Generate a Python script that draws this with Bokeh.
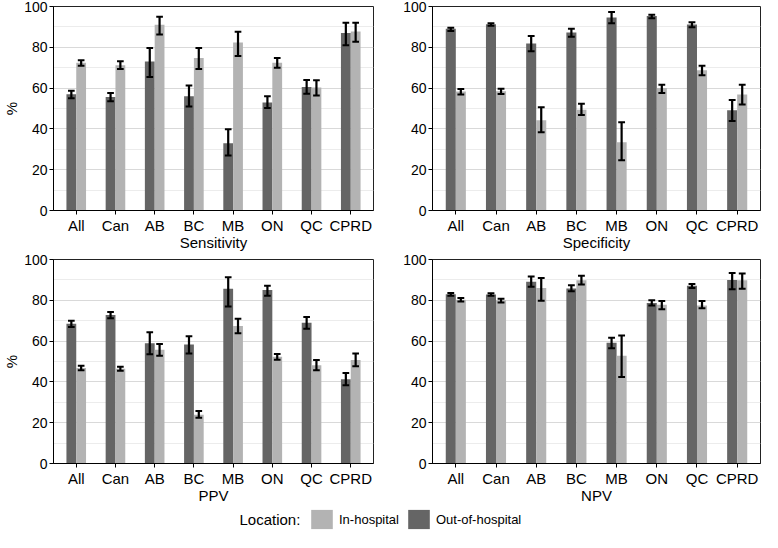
from bokeh.plotting import figure
from bokeh.models import (Range1d, FixedTicker, ColumnDataSource, Legend,
                          LegendItem, Label)
from bokeh.layouts import column, row
from bokeh.embed import file_html
from bokeh.resources import INLINE

regions = ["All", "Can", "AB", "BC", "MB", "ON", "QC", "CPRD"]
metrics = ["Sensitivity", "Specificity", "PPV", "NPV"]
locations = ["In-hospital", "Out-of-hospital"]

# Sensitivity
sens_out = [57.0, 55.6, 73.0, 56.0, 33.0, 53.0, 60.6, 87.0]
sens_out_lo = [55.0, 53.5, 65.5, 51.0, 27.0, 50.2, 57.2, 81.0]
sens_out_hi = [58.7, 57.6, 79.7, 61.3, 39.8, 56.0, 64.0, 92.0]
sens_in = [72.4, 71.2, 91.0, 74.8, 82.4, 72.4, 60.3, 87.7]
sens_in_lo = [70.9, 69.4, 86.3, 69.4, 75.7, 70.0, 56.4, 82.7]
sens_in_hi = [73.7, 73.2, 95.0, 79.7, 87.6, 74.8, 63.8, 92.0]

# Specificity
spec_out = [89.1, 91.3, 81.9, 87.2, 94.6, 95.3, 91.2, 49.1]
spec_out_lo = [88.0, 90.6, 78.1, 85.2, 91.8, 94.2, 89.8, 43.9]
spec_out_hi = [89.6, 91.8, 85.5, 89.1, 97.3, 96.0, 92.3, 54.2]
spec_in = [58.3, 58.5, 44.3, 49.4, 33.5, 60.0, 68.7, 56.9]
spec_in_lo = [56.9, 57.1, 38.3, 46.8, 24.6, 57.6, 66.3, 52.0]
spec_in_hi = [59.5, 59.7, 50.6, 52.3, 43.3, 61.6, 71.0, 61.6]

# PPV
ppv_out = [68.5, 72.8, 58.9, 58.3, 85.7, 85.0, 69.0, 41.3]
ppv_out_lo = [66.9, 71.2, 53.5, 53.9, 77.0, 82.2, 66.1, 38.4]
ppv_out_hi = [70.0, 74.3, 64.3, 62.4, 91.3, 87.1, 71.8, 44.4]
ppv_in = [46.8, 46.5, 55.7, 23.9, 67.4, 52.3, 48.2, 50.7]
ppv_in_lo = [45.7, 45.5, 52.8, 22.4, 63.9, 50.9, 45.7, 47.7]
ppv_in_hi = [47.9, 47.4, 58.6, 25.7, 70.9, 53.7, 50.7, 53.9]

# NPV
npv_out = [83.0, 82.8, 89.1, 85.8, 59.2, 78.7, 87.1, 89.9]
npv_out_lo = [82.2, 82.2, 86.6, 84.4, 56.5, 77.5, 86.0, 85.4]
npv_out_hi = [83.6, 83.4, 91.7, 87.4, 61.7, 80.0, 88.0, 93.4]
npv_in = [80.3, 80.0, 86.0, 89.8, 52.8, 77.8, 77.5, 89.8]
npv_in_lo = [79.4, 78.9, 79.8, 87.7, 42.4, 75.6, 76.1, 85.7]
npv_in_hi = [81.1, 80.8, 90.9, 92.0, 62.8, 79.7, 79.7, 93.1]

y_ticks = [0, 20, 40, 60, 80, 100]
y_minor = [10, 30, 50, 70, 90]

DARK = "#656565"
LIGHT = "#b3b3b3"
FONT = "Liberation Sans"
BAR_W = 0.25
CAP = 0.085


def make_panel(title, out_v, out_lo, out_hi, in_v, in_lo, in_hi, left):
    if left:
        w, mbl, mbr = 400, 48, 27
    else:
        w, mbl, mbr = 362, 31, 2
    p = figure(x_range=Range1d(0.42, len(regions) + 0.58),
               y_range=Range1d(0, 100), width=w, height=253,
               output_backend="svg", toolbar_location=None,
               min_border_left=mbl, min_border_right=mbr,
               min_border_top=6, min_border_bottom=40)
    pos = [i + 1 for i in range(len(regions))]
    xo = [x - BAR_W / 2 for x in pos]
    xi = [x + BAR_W / 2 for x in pos]
    src = ColumnDataSource(dict(
        x_out=xo, x_in=xi,
        c0_out=[x - CAP for x in xo], c1_out=[x + CAP for x in xo],
        c0_in=[x - CAP for x in xi], c1_in=[x + CAP for x in xi],
        out=out_v, out_lo=out_lo, out_hi=out_hi,
        inn=in_v, inn_lo=in_lo, inn_hi=in_hi))
    p.vbar(x="x_out", top="out", width=BAR_W, source=src,
           fill_color=DARK, line_color=None)
    p.vbar(x="x_in", top="inn", width=BAR_W, source=src,
           fill_color=LIGHT, line_color=None)
    for col, base, c0, c1 in [("out", "x_out", "c0_out", "c1_out"),
                              ("inn", "x_in", "c0_in", "c1_in")]:
        p.segment(x0=base, y0=col + "_lo", x1=base, y1=col + "_hi", source=src,
                  line_width=2.2, line_color="black", line_cap="butt")
        p.segment(x0=c0, y0=col + "_lo", x1=c1, y1=col + "_lo", source=src,
                  line_width=2, line_color="black", line_cap="butt")
        p.segment(x0=c0, y0=col + "_hi", x1=c1, y1=col + "_hi", source=src,
                  line_width=2, line_color="black", line_cap="butt")
    p.xaxis.ticker = FixedTicker(ticks=pos)
    p.xaxis.major_label_overrides = {x: r for x, r in zip(pos, regions)}
    p.yaxis.ticker = FixedTicker(ticks=y_ticks, minor_ticks=y_minor)
    p.xgrid.grid_line_color = None
    p.ygrid.grid_line_color = "#d9d9d9"
    p.ygrid.minor_grid_line_color = "#ececec"
    p.outline_line_color = "#222222"
    p.outline_line_width = 1
    for ax in (p.xaxis, p.yaxis):
        ax.axis_line_color = "black"
        ax.major_tick_line_color = "black"
        ax.major_tick_out = 4
        ax.major_tick_in = 0
        ax.minor_tick_line_color = None
        ax.major_label_text_color = "black"
        ax.major_label_text_font = FONT
        ax.axis_label_text_font = FONT
        ax.axis_label_text_font_style = "normal"
        ax.axis_label_text_color = "black"
    p.xaxis.major_label_text_font_size = "15px"
    p.yaxis.major_label_text_font_size = "14px"
    p.xaxis.major_label_standoff = 2
    p.yaxis.major_label_standoff = 2
    p.xaxis.axis_label = title
    p.xaxis.axis_label_text_font_size = "15px"
    p.xaxis.axis_label_standoff = -3
    if left:
        p.yaxis.axis_label = "%"
        p.yaxis.axis_label_text_font_size = "15px"
        p.yaxis.axis_label_standoff = 1
    return p


p1 = make_panel(metrics[0], sens_out, sens_out_lo, sens_out_hi, sens_in, sens_in_lo, sens_in_hi, True)
p2 = make_panel(metrics[1], spec_out, spec_out_lo, spec_out_hi, spec_in, spec_in_lo, spec_in_hi, False)
p3 = make_panel(metrics[2], ppv_out, ppv_out_lo, ppv_out_hi, ppv_in, ppv_in_lo, ppv_in_hi, True)
p4 = make_panel(metrics[3], npv_out, npv_out_lo, npv_out_hi, npv_in, npv_in_lo, npv_in_hi, False)

# legend strip (swatch renderers are zero-height placeholders)
leg = figure(width=762, height=26, x_range=Range1d(0, 1), y_range=Range1d(0, 1),
             output_backend="svg", toolbar_location=None,
             x_axis_type=None, y_axis_type=None,
             min_border=0, min_border_left=0, min_border_right=0,
             min_border_top=0, min_border_bottom=0)
leg.outline_line_color = None
leg.xgrid.grid_line_color = None
leg.ygrid.grid_line_color = None
r_in = leg.vbar(x=[0.5], top=[0], width=0.01, fill_color=LIGHT, line_color=None)
r_out = leg.vbar(x=[0.5], top=[0], width=0.01, fill_color=DARK, line_color=None)
legend = Legend(items=[LegendItem(label=locations[0], renderers=[r_in]),
                       LegendItem(label=locations[1], renderers=[r_out])],
                orientation="horizontal", location=(308, 1),
                glyph_width=27, glyph_height=24, label_standoff=4, spacing=6,
                padding=0, margin=0, border_line_color=None,
                background_fill_alpha=0,
                label_text_font=FONT, label_text_font_size="13px",
                label_text_color="black")
leg.add_layout(legend)
leg.add_layout(Label(x=239, y=13, x_units="screen", y_units="screen",
                     text="Location:", text_font=FONT, text_font_size="15px",
                     text_baseline="middle", text_color="black"))

layout = column(row(p1, p2), row(p3, p4), leg)

with open("out.html", "w") as f:
    f.write(file_html(layout, INLINE))
